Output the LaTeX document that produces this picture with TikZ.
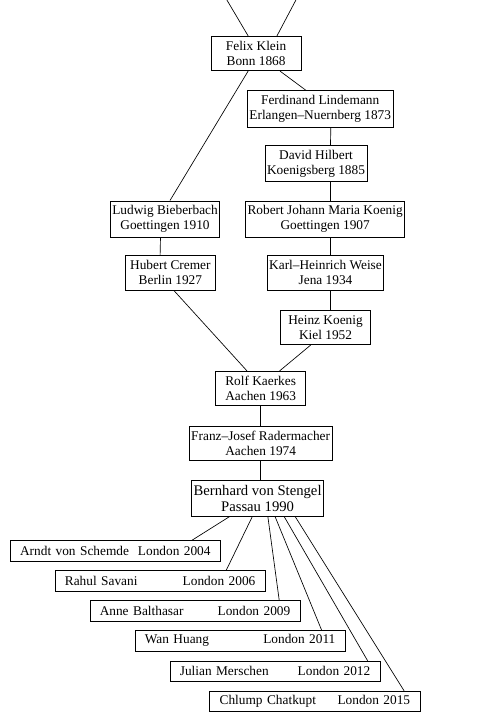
\documentclass[tikz,border=0pt]{standalone}
\usepackage{fontspec}
\setmainfont{Liberation Serif}
\begin{document}
\begin{tikzpicture}
\tikzstyle{person}  = [rectangle, text centered, align=center, draw=black, line width=0.5pt, minimum height=0.91cm, minimum width=2.37cm, inner xsep=1.5pt, font=\fontsize{10}{11.3}\selectfont]
\tikzstyle{student} = [rectangle, draw=black, line width=0.5pt, minimum height=0.53cm, text width=5.02cm, inner xsep=0.26cm, inner ysep=1pt, font=\fontsize{10}{11.3}\selectfont]
\tikzstyle{link}    = [line width=0.5pt, black]
\useasboundingbox (0,0) rectangle (12.84,19.03);
\coordinate (0_c_0) at (5.98, 19.03);
\coordinate (0_c_1) at (7.80, 19.03);
\node[person] at (6.75, 17.62) (1_m_0) {Felix Klein\\Bonn 1868};
\node[person] at (8.44, 16.16) (2_m_0) {Ferdinand Lindemann\\Erlangen--Nuernberg 1873};
\node[person] at (8.33, 14.72) (3_m_0) {David Hilbert\\Koenigsberg 1885};
\node[person] at (4.35, 13.26) (4_m_0) {Ludwig Bieberbach\\Goettingen 1910};
\node[person] at (8.57, 13.26) (4_m_1) {Robert Johann Maria Koenig\\Goettingen 1907};
\node[person] at (4.49, 11.84) (5_m_0) {Hubert Cremer\\Berlin 1927};
\node[person] at (8.58, 11.84) (5_m_1) {Karl--Heinrich Weise\\Jena 1934};
\node[person] at (8.58, 10.40) (6_m_1) {Heinz Koenig\\Kiel 1952};
\node[person] at (6.87, 8.79) (7_m_0) {Rolf Kaerkes\\Aachen 1963};
\node[person] at (6.87, 7.34) (8_m_0) {Franz--Josef Radermacher\\Aachen 1974};
\node[person, font=\fontsize{11}{12.2}\selectfont] at (6.79, 5.89) (9_m_0) {Bernhard von Stengel\\Passau 1990};
\node[student] at (3.04, 4.51) (10_s_0) {Arndt von Schemde\hfill London 2004};
\node[student] at (4.22, 3.72) (10_s_1) {Rahul Savani\hfill London 2006};
\node[student] at (5.14, 2.93) (10_s_2) {Anne Balthasar\hfill London 2009};
\node[student] at (6.33, 2.14) (10_s_3) {Wan Huang\hfill London 2011};
\node[student] at (7.25, 1.34) (10_s_4) {Julian Merschen\hfill London 2012};
\node[student] at (8.30, 0.55) (10_s_5) {Chlump Chatkupt\hfill London 2015};
\draw[link] (0_c_0) -- ([xshift=-0.21cm]1_m_0.north);
\draw[link] (0_c_1) -- ([xshift=0.55cm]1_m_0.north);
\draw[link] ([xshift=0.63cm]1_m_0.south) -- ([xshift=-0.37cm]2_m_0.north);
\draw[link] ([xshift=-0.21cm]1_m_0.south) -- ([xshift=0.13cm]4_m_0.north);
\draw[link] ([xshift=0.28cm]2_m_0.south) -- ([xshift=0.38cm]3_m_0.north);
\draw[link] ([xshift=0.38cm]3_m_0.south) -- ([xshift=0.14cm]4_m_1.north);
\draw[link] ([xshift=-0.12cm]4_m_0.south) -- ([xshift=-0.27cm]5_m_0.north);
\draw[link] ([xshift=0.14cm]4_m_1.south) -- ([xshift=0.13cm]5_m_1.north);
\draw[link] ([xshift=0.13cm]5_m_1.south) -- ([xshift=0.13cm]6_m_1.north);
\draw[link] ([xshift=0.09cm]5_m_0.south) -- ([xshift=-0.36cm]7_m_0.north);
\draw[link] ([xshift=-0.39cm]6_m_1.south) -- ([xshift=0.50cm]7_m_0.north);
\draw[link] (7_m_0.south) -- (8_m_0.north);
\draw[link] (8_m_0.south) -- (8_m_0.south |- 9_m_0.north);
\draw[link] ([xshift=-0.74cm]9_m_0.south) -- ([xshift=2.01cm]10_s_0.north);
\draw[link] ([xshift=-0.14cm]9_m_0.south) -- ([xshift=1.74cm]10_s_1.north);
\draw[link] ([xshift=0.27cm]9_m_0.south) -- ([xshift=2.22cm]10_s_2.north);
\draw[link] ([xshift=0.46cm]9_m_0.south) -- ([xshift=2.15cm]10_s_3.north);
\draw[link] ([xshift=0.70cm]9_m_0.south) -- ([xshift=2.44cm]10_s_4.north);
\draw[link] ([xshift=0.99cm]9_m_0.south) -- ([xshift=2.35cm]10_s_5.north);
\end{tikzpicture}
\end{document}
